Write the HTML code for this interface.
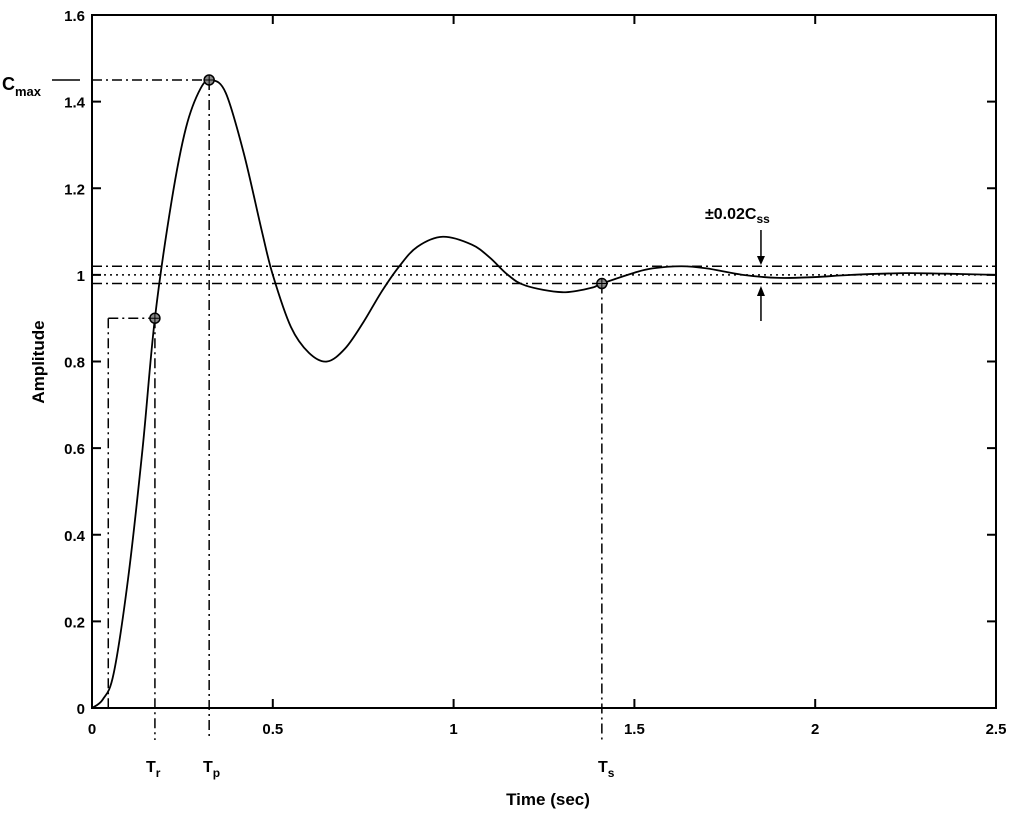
<!DOCTYPE html>
<html><head><meta charset="utf-8"><style>
body{margin:0;background:#fff}
svg text{font-family:"Liberation Sans",Arial,sans-serif;font-weight:bold;fill:#000}
</style></head><body>
<svg id="chart" width="1010" height="813" xmlns="http://www.w3.org/2000/svg">
<g id="plot"></g>
</svg>
<script>
const times=[0,0.03,0.06,0.1,0.14,0.174,0.22,0.26,0.3,0.33,0.37,0.42,0.47,0.5,0.55,0.6,0.65,0.7,0.75,0.8,0.85,0.9,0.97,1.05,1.1,1.15,1.2,1.3,1.38,1.41,1.5,1.55,1.63,1.7,1.8,1.9,2.0,2.1,2.25,2.4,2.5];
const amps=[0,0.02,0.08,0.3,0.6,0.9,1.17,1.34,1.43,1.45,1.42,1.28,1.1,1.0,0.88,0.82,0.80,0.83,0.89,0.96,1.02,1.065,1.088,1.07,1.04,1.0,0.975,0.96,0.97,0.98,1.005,1.015,1.02,1.015,1.0,0.993,0.995,1.0,1.004,1.002,1.0];
const xTicks=[0,0.5,1,1.5,2,2.5];
const xTickLabels=["0","0.5","1","1.5","2","2.5"];
const yTicks=[0,0.2,0.4,0.6,0.8,1,1.2,1.4,1.6];
const yTickLabels=["0","0.2","0.4","0.6","0.8","1","1.2","1.4","1.6"];
const keyPoints=[[0.174,0.9],[0.324,1.45],[1.41,0.98]];
const X0=92,X1=996,Y0=708,Y1=15;
const sx=v=>X0+(X1-X0)*v/2.5, sy=v=>Y0-(Y0-Y1)*v/1.6;
const NS="http://www.w3.org/2000/svg", g=document.getElementById('plot');
function mk(t,a,name){const e=document.createElementNS(NS,t);for(const k in a)e.setAttribute(k,a[k]);


g.appendChild(e);return e;}
const DD="10 4 2 4";
// frame
mk('rect',{x:X0,y:Y1,width:X1-X0,height:Y0-Y1,fill:'none',stroke:'#000','stroke-width':2},'plot-frame');
xTicks.forEach((v,i)=>{const x=sx(v);
mk('line',{x1:x,x2:x,y1:Y0,y2:Y0-9,stroke:'#000','stroke-width':2},'x-tick');
mk('line',{x1:x,x2:x,y1:Y1,y2:Y1+9,stroke:'#000','stroke-width':2},'x-tick-top');
const t=mk('text',{x:x,y:Y0+26,'font-size':15,'text-anchor':'middle'},'x-tick-label');t.textContent=xTickLabels[i];});
yTicks.forEach((v,i)=>{const y=sy(v);
mk('line',{x1:X0,x2:X0+9,y1:y,y2:y,stroke:'#000','stroke-width':2},'y-tick');
mk('line',{x1:X1,x2:X1-9,y1:y,y2:y,stroke:'#000','stroke-width':2},'y-tick-right');
const t=mk('text',{x:X0-7,y:y+6,'font-size':15,'text-anchor':'end'},'y-tick-label');t.textContent=yTickLabels[i];});
// tolerance lines
mk('line',{x1:X0,x2:X1,y1:sy(1.02),y2:sy(1.02),stroke:'#000','stroke-width':1.5,'stroke-dasharray':DD},'upper-tolerance-line');
mk('line',{x1:X0,x2:X1,y1:sy(0.98),y2:sy(0.98),stroke:'#000','stroke-width':1.5,'stroke-dasharray':DD},'lower-tolerance-line');
mk('line',{x1:X0,x2:X1,y1:sy(1),y2:sy(1),stroke:'#000','stroke-width':1.5,'stroke-dasharray':"2 4"},'steady-state-line');
// annotation lines
const [tr,tp,ts]=keyPoints;
mk('line',{x1:sx(0.045),x2:sx(tr[0]),y1:sy(0.9),y2:sy(0.9),stroke:'#000','stroke-width':1.5,'stroke-dasharray':DD},'rise-90-line');
mk('line',{x1:sx(0.045),x2:sx(0.045),y1:sy(0.9),y2:Y0,stroke:'#000','stroke-width':1.5,'stroke-dasharray':DD},'rise-10-line');
mk('line',{x1:sx(tr[0]),x2:sx(tr[0]),y1:sy(tr[1]),y2:Y0+32,stroke:'#000','stroke-width':1.5,'stroke-dasharray':DD},'rise-time-line');
mk('line',{x1:X0,x2:sx(tp[0]),y1:sy(tp[1]),y2:sy(tp[1]),stroke:'#000','stroke-width':1.5,'stroke-dasharray':DD},'cmax-line');
mk('line',{x1:sx(tp[0]),x2:sx(tp[0]),y1:sy(tp[1]),y2:Y0+32,stroke:'#000','stroke-width':1.5,'stroke-dasharray':DD},'peak-time-line');
mk('line',{x1:sx(ts[0]),x2:sx(ts[0]),y1:sy(ts[1]),y2:Y0+32,stroke:'#000','stroke-width':1.5,'stroke-dasharray':DD},'settling-time-line');
mk('line',{x1:52,x2:80,y1:sy(tp[1]),y2:sy(tp[1]),stroke:'#000','stroke-width':1.5},'cmax-leader');
// curve (Catmull-Rom)
const P=times.map((t,i)=>[sx(t),sy(amps[i])]);
let d=`M${P[0][0]},${P[0][1]}`;
for(let i=0;i<P.length-1;i++){const p0=P[Math.max(i-1,0)],p1=P[i],p2=P[i+1],p3=P[Math.min(i+2,P.length-1)];
d+=` C${p1[0]+(p2[0]-p0[0])/6},${p1[1]+(p2[1]-p0[1])/6} ${p2[0]-(p3[0]-p1[0])/6},${p2[1]-(p3[1]-p1[1])/6} ${p2[0]},${p2[1]}`;}
mk('path',{d:d,fill:'none',stroke:'#000','stroke-width':1.8},'step-response-curve');
keyPoints.forEach(p=>{const x=sx(p[0]),y=sy(p[1]);
mk('circle',{cx:x,cy:y,r:5,fill:'#888',stroke:'#000','stroke-width':1.5},'key-point-marker');
mk('path',{d:`M${x-5},${y}H${x+5}M${x},${y-5}V${y+5}`,stroke:'#000','stroke-width':1},'key-point-cross');});
// arrows
const ax=sx(1.85);
mk('line',{x1:ax,x2:ax,y1:230,y2:258,stroke:'#000','stroke-width':1.5},'arrow-down-shaft');
mk('path',{d:`M${ax-4},256L${ax+4},256L${ax},265Z`,fill:'#000'},'arrow-down-head');
mk('line',{x1:ax,x2:ax,y1:294,y2:321,stroke:'#000','stroke-width':1.5},'arrow-up-shaft');
mk('path',{d:`M${ax-4},296L${ax+4},296L${ax},286Z`,fill:'#000'},'arrow-up-head');
function txt(x,y,s,html,name,extra){const t=mk('text',Object.assign({x:x,y:y,'font-size':s},extra||{}),name);t.innerHTML=html;return t;}
txt(705,219,16,'±0.02C<tspan font-size="12" dy="4">ss</tspan>','tolerance-label');
txt(2,90,18,'C<tspan font-size="13" dy="6">max</tspan>','cmax-label');
txt(146,772,16,'T<tspan font-size="12" dy="5">r</tspan>','rise-time-label');
txt(203,772,16,'T<tspan font-size="12" dy="5">p</tspan>','peak-time-label');
txt(598,772,16,'T<tspan font-size="12" dy="5">s</tspan>','settling-time-label');
txt(548,805,17,'Time  (sec)','x-axis-title',{'text-anchor':'middle','xml:space':'preserve'});
txt(44,362,17,'Amplitude','y-axis-title',{'text-anchor':'middle',transform:'rotate(-90 44 362)'});
</script>
</body></html>
